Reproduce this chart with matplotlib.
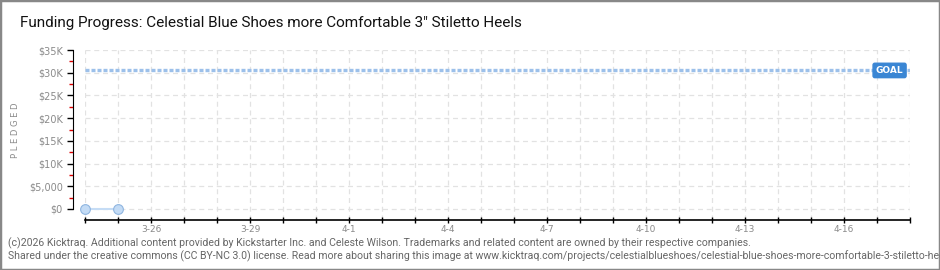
import matplotlib
matplotlib.use("Agg")
import matplotlib.pyplot as plt
from matplotlib.patches import Rectangle
from matplotlib.ticker import FixedLocator

# data
day_labels = ["3-24", "3-25", "3-26", "3-27", "3-28", "3-29", "3-30", "3-31",
              "4-1", "4-2", "4-3", "4-4", "4-5", "4-6", "4-7", "4-8", "4-9",
              "4-10", "4-11", "4-12", "4-13", "4-14", "4-15", "4-16", "4-17", "4-18"]
pledged_days = [0, 1]
pledged = [0, 0]
goal = 30500
y_ticks = [0, 5000, 10000, 15000, 20000, 25000, 30000, 35000]
y_labels = ["$0", "$5,000", "$10K", "$15K", "$20K", "$25K", "$30K", "$35K"]

W, H = 940, 270
fig = plt.figure(figsize=(W / 100, H / 100), dpi=100)

# axes: x from 85 to 910 px, y from 50 to 220 px ($0 at 209)
ax = fig.add_axes([85 / W, 1 - 220 / H, (910 - 85) / W, (220 - 50) / H])
ymin = -35000 * 11 / 159
ax.set_xlim(0, len(day_labels) - 1)
ax.set_ylim(ymin, 35000)

# spines first (set_position resets the ticks)
for s in ["top", "right"]:
    ax.spines[s].set_visible(False)
ax.spines["left"].set_position(("outward", 9))
ax.spines["left"].set_bounds(0, 35000)
ax.spines["bottom"].set_linewidth(1.2)

tick_col = "#8a8a8a"
ax.set_xticks(range(len(day_labels)))
ax.set_xticklabels([l if i % 3 == 2 else "" for i, l in enumerate(day_labels)],
                   fontsize=6.5, color=tick_col)
ax.set_yticks(y_ticks)
ax.set_yticklabels(y_labels, fontsize=7, color=tick_col)
ax.yaxis.set_minor_locator(FixedLocator([2500 + 5000 * i for i in range(7)]))
ax.tick_params(axis="y", which="major", direction="out", length=4, width=1,
               color="black", pad=3)
ax.tick_params(axis="y", which="minor", direction="out", length=3, width=1,
               color="#dd0000")
ax.tick_params(axis="x", direction="inout", length=5, width=1, color="black", pad=1)

ax.grid(True, color="#e2e2e2", linestyle=(0, (4, 3)), linewidth=0.9)
ax.set_axisbelow(True)

# goal line
ax.axhline(goal, color="#9cc0ea", linewidth=2.4, linestyle=(0, (1.2, 0.6)), zorder=3)
ax.text(len(day_labels) - 1.2, goal, "GOAL", color="white", fontsize=6.5,
        fontweight="bold", ha="right", va="center", zorder=5,
        bbox=dict(boxstyle="round,pad=0.3,rounding_size=0.2",
                  fc="#3a86d4", ec="#3a86d4"))

# pledged series
ax.plot(pledged_days, pledged, color="#c5dcf5", linewidth=1.5, zorder=4,
        marker="o", markersize=7, markerfacecolor="#c3dbf5",
        markeredgecolor="#8fb5e0", markeredgewidth=0.8, clip_on=False)

ax.set_ylabel("P L E D G E D", fontsize=6, color=tick_col)
ax.yaxis.set_label_coords(-65 / 825, 0.53)

fig.text(20 / W, 1 - 23 / H,
         "Funding Progress: Celestial Blue Shoes more Comfortable 3\u2033 Stiletto Heels",
         fontsize=11, family=["Roboto", "DejaVu Sans"],
         color="#111111", va="center", ha="left")

foot_col = "#666666"
fig.text(8 / W, 1 - 243 / H,
         "(c)2026 Kicktraq. Additional content provided by Kickstarter Inc. and Celeste Wilson. "
         "Trademarks and related content are owned by their respective companies.",
         fontsize=7.6, color=foot_col, va="center", ha="left",
         family=["Roboto", "DejaVu Sans"])
fig.text(8 / W, 1 - 256 / H,
         "Shared under the creative commons (CC BY-NC 3.0) license. Read more about sharing this image at "
         "www.kicktraq.com/projects/celestialblueshoes/celestial-blue-shoes-more-comfortable-3-stiletto-heels/",
         fontsize=7.6, color=foot_col, va="center", ha="left",
         family=["Roboto", "DejaVu Sans"])

fig.patches.append(Rectangle((0, 0), 1, 1, transform=fig.transFigure, fill=False,
                             edgecolor="#888888", linewidth=2.5))

fig.savefig("out.png", dpi=100)
